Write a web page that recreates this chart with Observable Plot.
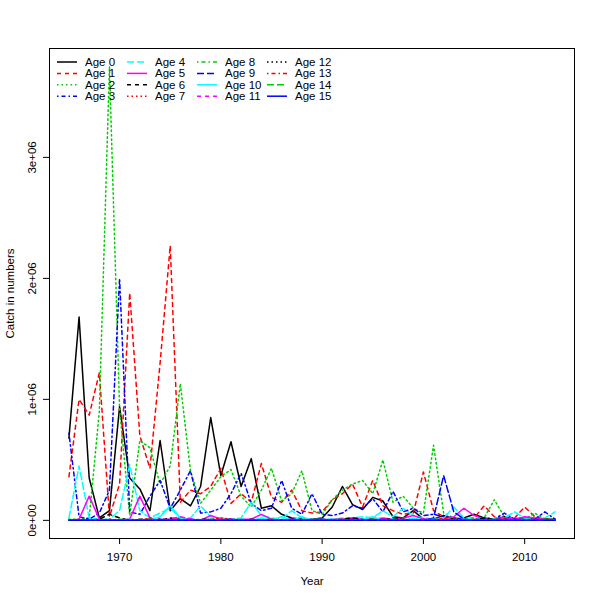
<!DOCTYPE html>
<html><head><meta charset="utf-8">
<script src="https://cdn.jsdelivr.net/npm/d3@7"></script>
<script src="https://cdn.jsdelivr.net/npm/@observablehq/plot@0.6"></script>
<style>body{margin:0;background:#fff}</style>
</head><body><div id="chart"></div>
<script>
const years = [1965,1966,1967,1968,1969,
 1970,1971,1972,1973,1974,1975,1976,1977,1978,1979,
 1980,1981,1982,1983,1984,1985,1986,1987,1988,1989,
 1990,1991,1992,1993,1994,1995,1996,1997,1998,1999,
 2000,2001,2002,2003,2004,2005,2006,2007,2008,2009,
 2010,2011,2012,2013];
const ages = ["Age 0","Age 1","Age 2","Age 3","Age 4","Age 5","Age 6","Age 7",
 "Age 8","Age 9","Age 10","Age 11","Age 12","Age 13","Age 14","Age 15"];

const age0 = [680000,1680000,350000,20000,80000,
 940000,350000,260000,80000,660000,80000,180000,120000,280000,850000,
 370000,650000,280000,510000,100000,120000,50000,20000,10000,10000,
 20000,110000,280000,130000,90000,190000,160000,30000,20000,80000,
 10000,10000,40000,10000,20000,50000,20000,10000,30000,10000,
 20000,10000,10000,10000];
const age1 = [360000,1000000,870000,1220000,30000,
 300000,1880000,700000,430000,1300000,2270000,150000,250000,220000,280000,
 430000,140000,220000,150000,470000,190000,150000,250000,80000,60000,
 70000,170000,220000,300000,110000,330000,120000,80000,50000,60000,
 400000,80000,30000,20000,10000,20000,120000,30000,10000,20000,
 110000,30000,10000,10000];
const age2 = [10000,10000,20000,900000,3750000,
 920000,40000,660000,600000,300000,450000,1130000,410000,140000,250000,
 360000,420000,200000,110000,250000,430000,160000,220000,410000,80000,
 50000,170000,250000,300000,330000,220000,500000,150000,200000,100000,
 60000,620000,60000,20000,10000,10000,20000,170000,30000,20000,
 10000,60000,10000,10000];
const age3 = [720000,30000,10000,60000,250000,
 2000000,70000,50000,200000,330000,100000,250000,410000,60000,70000,
 100000,220000,390000,140000,80000,100000,330000,100000,50000,220000,
 50000,40000,60000,120000,100000,180000,70000,240000,70000,100000,
 40000,50000,30000,20000,10000,10000,20000,10000,60000,10000,
 20000,10000,70000,10000];
const age4 = [20000,450000,20000,10000,10000,
 80000,460000,80000,20000,60000,100000,20000,20000,120000,30000,
 20000,10000,20000,150000,40000,20000,10000,80000,20000,10000,
 10000,10000,20000,20000,30000,20000,80000,30000,100000,40000,
 20000,10000,20000,110000,20000,10000,10000,10000,20000,70000,
 20000,10000,20000,70000];
const age5 = [0,10000,200000,10000,0,
 0,10000,200000,20000,0,10000,20000,10000,0,40000,
 10000,0,10000,10000,50000,10000,0,10000,0,0,
 0,10000,10000,20000,10000,10000,20000,10000,20000,40000,
 10000,10000,10000,30000,100000,40000,10000,10000,20000,10000,
 30000,20000,10000,0];
const age6 = [0,0,0,10000,50000,
 20000,0,10000,10000,0,20000,10000,0,10000,10000,
 0,10000,0,10000,0,10000,0,0,10000,0,
 0,0,10000,20000,10000,10000,0,20000,10000,10000,
 0,10000,0,0,10000,0,20000,10000,10000,0,
 10000,0,10000,0];
const age7 = [0,0,0,0,10000,
 0,10000,0,20000,10000,0,10000,0,0,10000,
 20000,10000,0,0,10000,0,0,10000,0,0,
 10000,0,0,10000,0,0,10000,0,0,10000,
 0,0,20000,0,0,10000,0,0,10000,0,
 0,10000,0,0];
const age8 = [0,0,0,0,0,
 10000,0,0,10000,0,0,10000,0,0,10000,
 0,0,10000,0,0,10000,0,0,0,10000,
 0,0,10000,0,0,10000,0,0,10000,0,
 0,10000,0,0,0,10000,0,10000,0,0,
 10000,0,10000,0];
const age9 = [0,0,0,0,0,
 0,0,0,0,10000,0,0,10000,0,0,
 0,10000,0,0,10000,0,0,10000,0,0,
 10000,0,0,10000,0,0,10000,0,0,10000,
 0,20000,370000,70000,10000,0,10000,0,0,10000,
 0,10000,0,0];
const age10 = [0,0,0,0,0,
 0,10000,0,0,30000,120000,20000,0,0,10000,
 0,0,10000,0,20000,0,30000,0,30000,0,
 0,10000,0,0,10000,30000,0,10000,0,20000,
 0,10000,0,0,10000,0,0,10000,0,0,
 10000,0,0,0];
const age11 = [0,0,0,0,0,
 0,0,0,0,0,10000,30000,10000,0,0,
 0,10000,0,0,0,10000,0,0,0,10000,
 0,0,10000,0,0,0,10000,0,10000,0,
 0,0,0,0,10000,0,0,0,10000,0,
 0,0,0,0];
const age12 = [0,0,0,0,0, 0,0,0,0,0,0,0,0,0,0, 0,0,0,0,0,0,0,0,0,0,
 0,0,0,0,0,0,0,0,0,0, 0,0,0,0,0,0,0,0,0,0, 0,0,0,0];
const age13 = [0,0,0,0,0, 0,0,0,0,0,0,0,0,0,0, 0,0,0,0,0,0,0,0,0,0,
 0,0,0,0,0,0,0,0,0,0, 0,0,0,0,0,0,0,0,0,0, 0,0,0,0];
const age14 = [0,0,0,0,0, 0,0,0,0,0,0,0,0,0,0, 0,0,0,0,0,0,0,0,0,0,
 0,0,0,0,0,0,0,0,0,0, 0,0,0,0,0,0,0,0,0,0, 0,0,0,0];
const age15 = [0,0,0,0,0, 0,0,0,0,0,0,0,0,0,0, 0,0,0,0,0,0,0,0,0,0,
 0,0,0,0,0,0,0,0,0,0, 0,0,0,0,0,0,0,0,0,0, 0,0,0,0];

const series = [age0,age1,age2,age3,age4,age5,age6,age7,age8,age9,age10,age11,age12,age13,age14,age15];
const palette = ["#000000","#FF0000","#00CD00","#0000FF","#00FFFF","#FF00FF"];
const dashes = ["none","4,4","1.5,3","1.5,3,4,3","7,3"];
const xTicks = [1970,1980,1990,2000,2010];
const yTicks = [0,1000000,2000000,3000000];
const yTickLabels = ["0e+00","1e+06","2e+06","3e+06"];

const rows = series.flatMap((s,a)=> s.map((v,i)=>({year: years[i], value: v, k: a})));
const yMax = d3.max(rows, d=>d.value), yMin = d3.min(rows, d=>d.value);
const xMin = d3.min(years), xMax = d3.max(years);
const px = (xMax-xMin)*0.04, py = (yMax-yMin)*0.04;
const font = "'Liberation Sans', Arial, Helvetica, sans-serif";
const fs = 11.5;
const sw = 1.5;

const lineMarks = ages.map((name,a)=> Plot.line(rows.filter(d=>d.k===a), {
  x:"year", y:"value", stroke: palette[a%6], strokeWidth: sw,
  strokeDasharray: dashes[a%5]
}));

const chart = Plot.plot({
  width: 600, height: 600,
  marginLeft: 49, marginRight: 26, marginTop: 48, marginBottom: 62,
  style: {fontFamily: font, fontSize: fs + "px", background: "#fff", color: "#000"},
  x: {domain: [xMin-px, xMax+px]},
  y: {domain: [yMin-py, yMax+py]},
  marks: [
    ...lineMarks,
    Plot.frame({stroke: "#000", strokeWidth: 1}),
    Plot.axisX({ticks: xTicks, tickSize: 6, tickFormat: () => "", label: null, stroke: "#000"}),
    Plot.axisY({ticks: yTicks, tickSize: 6, tickFormat: () => "", label: null, stroke: "#000"}),
    Plot.text(xTicks, {x: d=>d, text: d=>String(d), frameAnchor: "bottom", dy: 22, lineAnchor: "bottom", fill: "#000", fontSize: fs}),
    Plot.text(yTicks, {y: d=>d, text: (d,i)=>yTickLabels[i], frameAnchor: "left", dx: -13.5, rotate: -90, lineAnchor: "bottom", textAnchor: "middle", fill: "#000", fontSize: fs}),
    Plot.text(["Year"], {text: d=>d, frameAnchor: "bottom", dy: 46, lineAnchor: "bottom", fill: "#000", fontSize: fs}),
    Plot.text(["Catch in numbers"], {text: d=>d, frameAnchor: "left", dx: -36, rotate: -90, lineAnchor: "bottom", textAnchor: "middle", fill: "#000", fontSize: fs})
  ]
});

// legend (R-style, no box), column-major 4x4
const svg = d3.select(chart);
const lg = svg.append("g").attr("font-family", font).attr("font-size", fs).attr("text-anchor", "start");
ages.forEach((name,a)=>{
  const col = Math.floor(a/4), row = a%4;
  const x0 = 57 + col*70, y0 = 62 + row*11.4;
  lg.append("line").attr("x1", x0).attr("x2", x0+20).attr("y1", y0).attr("y2", y0)
    .attr("stroke", palette[a%6]).attr("stroke-width", sw).attr("stroke-dasharray", dashes[a%5]);
  lg.append("text").attr("x", x0+28).attr("y", y0).attr("dy", "0.35em")
    .attr("text-anchor", "start").attr("fill", "#000").text(name);
});
document.getElementById("chart").appendChild(chart);
</script>
</body></html>
